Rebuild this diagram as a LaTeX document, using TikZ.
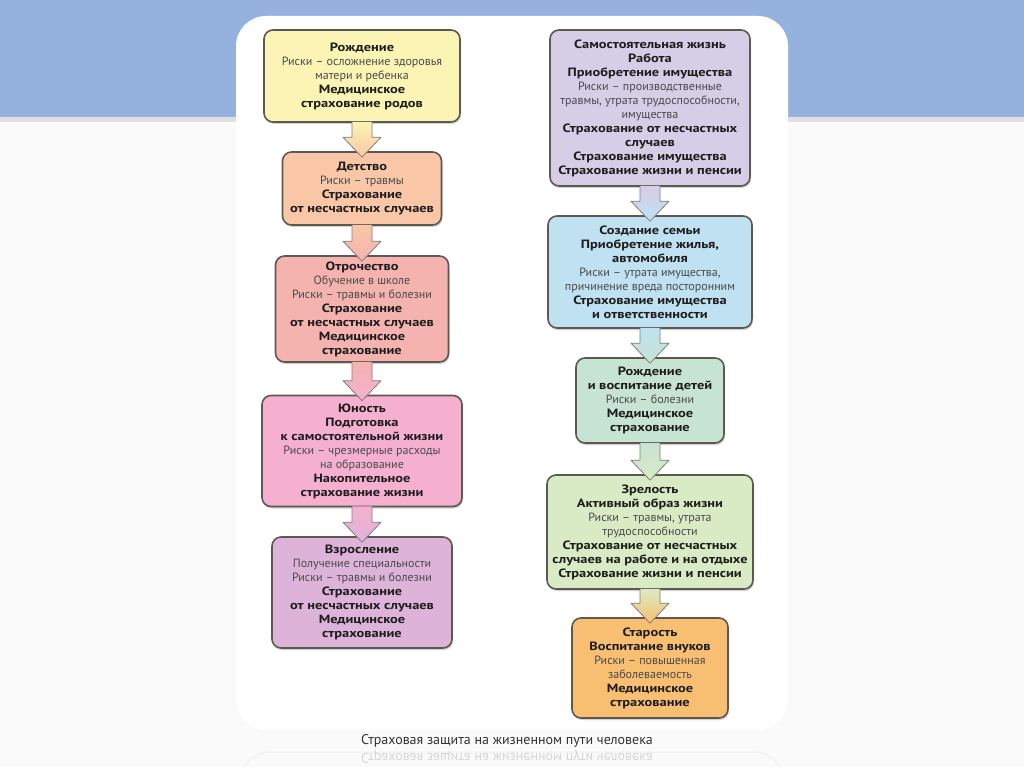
\documentclass[tikz,border=0pt]{standalone}
\usepackage{fontspec}
\setmainfont{PT Sans}[BoldFeatures={FakeStretch=1.2}]
\usetikzlibrary{calc,shadows}
\definecolor{band}{HTML}{95B1DD}
\definecolor{pagebg}{HTML}{FAFAFA}
\definecolor{boxedge}{HTML}{5E5950}
\definecolor{arrowedge}{HTML}{807E7A}
\definecolor{normtext}{HTML}{4A4A4A}
\definecolor{boldtext}{HTML}{1C1C1C}
\definecolor{cL1}{HTML}{FBF4B4}
\definecolor{cL2}{HTML}{F9C7A7}
\definecolor{cL3}{HTML}{F4B3AF}
\definecolor{cL4}{HTML}{F5B0D0}
\definecolor{cL5}{HTML}{DDB3DA}
\definecolor{cR1}{HTML}{D6CDE6}
\definecolor{cR2}{HTML}{BFE1F2}
\definecolor{cR3}{HTML}{C6E3D3}
\definecolor{cR4}{HTML}{D9EBC4}
\definecolor{cR5}{HTML}{F8BF72}
\newcommand{\rg}[1]{{\color{normtext}#1}}
\newcommand{\bd}[1]{{\bfseries\color{boldtext}#1}}
\newcommand{\barrow}[4]{%
  \path[draw=arrowedge, line width=0.8pt, top color=#3, bottom color=#4, line join=round]
    ($(#1.south)+(-10,-1)$) -- ($(#2.north)+(-10,-14)$) -- ($(#2.north)+(-19,-14)$)
    -- ($(#2.north)+(0,6)$) -- ($(#2.north)+(19,-14)$) -- ($(#2.north)+(10,-14)$)
    -- ($(#1.south)+(10,-1)$);}
\tikzset{
  stagebox/.style={draw=boxedge, line width=1.6pt, rounded corners=9pt, align=center,
    inner sep=0pt, font=\fontsize{12}{14}\selectfont,
    drop shadow={opacity=0.35, shadow xshift=1pt, shadow yshift=-2pt}},
  caption/.style={font=\fontsize{14}{16}\selectfont, text=black!80}
}
\begin{document}
\begin{tikzpicture}[x=1pt,y=-1pt]
\useasboundingbox (0,0) rectangle (1024,767);
\fill[pagebg] (0,0) rectangle (1024,767);
\fill[band] (0,0) rectangle (1024,117);
\fill[black!12] (0,117) rectangle (1024,122);
\fill[white, rounded corners=30pt] (236,16) rectangle (788,730);
\draw[black!6, line width=1pt, rounded corners=30pt] (240,767) -- (240,752) -- (784,752) -- (784,767);

% left column
\node[stagebox, fill=cL1, minimum width=196pt, minimum height=92pt] (l1) at (362,76)
 {\bd{Рождение}\\ \rg{Риски – осложнение здоровья}\\ \rg{матери и ребенка}\\ \bd{Медицинское}\\ \bd{страхование родов}};
\node[stagebox, fill=cL2, minimum width=159pt, minimum height=73pt] (l2) at (362,188.5)
 {\bd{Детство}\\ \rg{Риски – травмы}\\ \bd{Страхование}\\ \bd{от несчастных случаев}};
\node[stagebox, fill=cL3, minimum width=173pt, minimum height=106pt] (l3) at (362,309)
 {\bd{Отрочество}\\ \rg{Обучение в школе}\\ \rg{Риски – травмы и болезни}\\ \bd{Страхование}\\ \bd{от несчастных случаев}\\ \bd{Медицинское}\\ \bd{страхование}};
\node[stagebox, fill=cL4, minimum width=200pt, minimum height=111pt] (l4) at (362,451)
 {\bd{Юность}\\ \bd{Подготовка}\\ \bd{к самостоятельной жизни}\\ \rg{Риски – чрезмерные расходы}\\ \rg{на образование}\\ \bd{Накопительное}\\ \bd{страхование жизни}};
\node[stagebox, fill=cL5, minimum width=180pt, minimum height=111pt] (l5) at (362,592.5)
 {\bd{Взросление}\\ \rg{Получение специальности}\\ \rg{Риски – травмы и болезни}\\ \bd{Страхование}\\ \bd{от несчастных случаев}\\ \bd{Медицинское}\\ \bd{страхование}};

% right column
\node[stagebox, fill=cR1, minimum width=200pt, minimum height=156pt] (r1) at (650,108)
 {\bd{Самостоятельная жизнь}\\ \bd{Работа}\\ \bd{Приобретение имущества}\\ \rg{Риски – производственные}\\ \rg{травмы, утрата трудоспособности,}\\ \rg{имущества}\\ \bd{Страхование от несчастных}\\ \bd{случаев}\\ \bd{Страхование имущества}\\ \bd{Страхование жизни и пенсии}};
\node[stagebox, fill=cR2, minimum width=204pt, minimum height=112pt] (r2) at (650,272)
 {\bd{Создание семьи}\\ \bd{Приобретение жилья,}\\ \bd{автомобиля}\\ \rg{Риски – утрата имущества,}\\ \rg{причинение вреда посторонним}\\ \bd{Страхование имущества}\\ \bd{и ответственности}};
\node[stagebox, fill=cR3, minimum width=148pt, minimum height=85pt] (r3) at (650,400.5)
 {\bd{Рождение}\\ \bd{и воспитание детей}\\ \rg{Риски – болезни}\\ \bd{Медицинское}\\ \bd{страхование}};
\node[stagebox, fill=cR4, minimum width=206pt, minimum height=114pt] (r4) at (650,532)
 {\bd{Зрелость}\\ \bd{Активный образ жизни}\\ \rg{Риски – травмы, утрата}\\ \rg{трудоспособности}\\ \bd{Страхование от несчастных}\\ \bd{случаев на работе и на отдыхе}\\ \bd{Страхование жизни и пенсии}};
\node[stagebox, fill=cR5, minimum width=156pt, minimum height=100pt] (r5) at (650,668)
 {\bd{Старость}\\ \bd{Воспитание внуков}\\ \rg{Риски – повышенная}\\ \rg{заболеваемость}\\ \bd{Медицинское}\\ \bd{страхование}};

% arrows
\barrow{l1}{l2}{cL1}{cL2}
\barrow{l2}{l3}{cL2}{cL3}
\barrow{l3}{l4}{cL3}{cL4}
\barrow{l4}{l5}{cL4}{cL5}
\barrow{r1}{r2}{cR1}{cR2}
\barrow{r2}{r3}{cR2}{cR3}
\barrow{r3}{r4}{cR3}{cR4}
\barrow{r4}{r5}{cR4}{cR5}

% caption
\node[caption] (cap) at (507,741) {Страховая защита на жизненном пути человека};
\node[caption, opacity=0.18] (capr) at (507,757) {\scalebox{1}[-1]{Страховая защита на жизненном пути человека}};
\end{tikzpicture}
\end{document}
